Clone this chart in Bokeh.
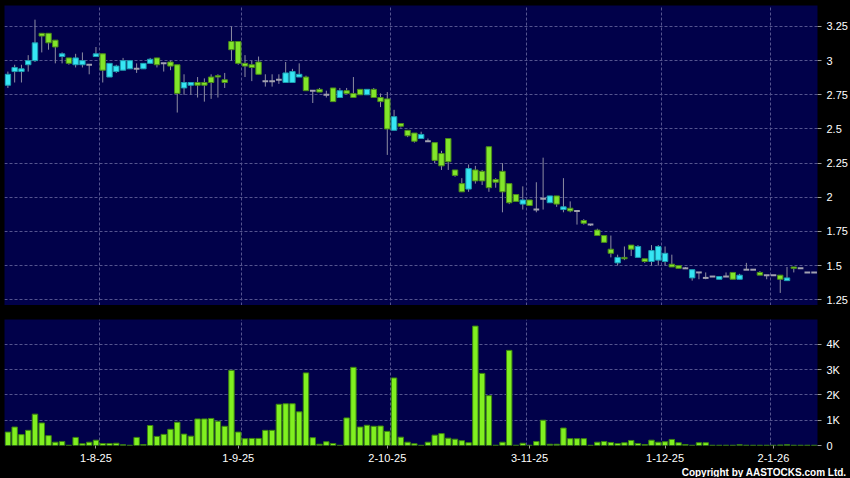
from bokeh.plotting import figure
from bokeh.layouts import column
from bokeh.models import (ColumnDataSource, FixedTicker, Grid, Title, Range1d,
                          GlobalInlineStyleSheet)
from bokeh.embed import file_html
from bokeh.resources import INLINE

# ---------------- data ----------------
opens = [2.82, 2.92, 2.92, 2.97, 3.00, 3.20, 3.20, 3.15, 3.03, 3.02,
         2.97, 2.97, 2.97, 3.03, 3.05, 2.88, 2.92, 2.93, 2.94, 2.94,
         2.94, 2.98, 3.02, 2.98, 2.99, 2.97, 2.80, 2.82, 2.84, 2.84,
         2.88, 2.89, 2.86, 3.14, 3.14, 2.98, 2.97, 2.99, 2.85, 2.85,
         2.86, 2.84, 2.84, 2.88, 2.88, 2.78, 2.79, 2.75, 2.80, 2.73,
         2.78, 2.76, 2.79, 2.75, 2.79, 2.73, 2.72, 2.49, 2.54, 2.49,
         2.47, 2.43, 2.41, 2.40, 2.32, 2.43, 2.20, 2.10, 2.06, 2.20,
         2.19, 2.37, 2.13, 2.19, 2.10, 2.02, 1.95, 1.98, 1.91, 1.99,
         1.96, 2.01, 1.91, 1.92, 1.90, 1.83, 1.80, 1.76, 1.72, 1.62,
         1.52, 1.56, 1.65, 1.56, 1.55, 1.53, 1.54, 1.53, 1.51, 1.50,
         1.48, 1.41, 1.45, 1.41, 1.42, 1.40, 1.42, 1.45, 1.40, 1.47,
         1.47, 1.45, 1.43, 1.43, 1.43, 1.39, 1.49, 1.48, 1.45, 1.45]

highs = [2.92, 2.97, 2.97, 3.04, 3.30, 3.20, 3.20, 3.15, 3.06, 3.02,
         3.05, 3.06, 2.97, 3.10, 3.05, 2.98, 2.97, 3.02, 3.00, 2.98,
         2.98, 3.02, 3.02, 2.98, 3.00, 2.97, 2.90, 2.84, 2.88, 2.87,
         2.90, 2.90, 2.91, 3.25, 3.14, 3.04, 3.00, 3.03, 2.90, 2.90,
         2.90, 2.99, 2.94, 2.98, 2.89, 2.78, 2.80, 2.78, 2.80, 2.80,
         2.80, 2.88, 2.79, 2.79, 2.80, 2.76, 2.77, 2.64, 2.54, 2.49,
         2.47, 2.48, 2.43, 2.40, 2.34, 2.43, 2.20, 2.14, 2.24, 2.23,
         2.20, 2.37, 2.14, 2.25, 2.10, 2.02, 2.08, 1.98, 2.11, 2.29,
         2.01, 2.01, 2.14, 1.97, 1.90, 1.84, 1.80, 1.77, 1.72, 1.72,
         1.58, 1.64, 1.65, 1.65, 1.55, 1.65, 1.65, 1.64, 1.58, 1.50,
         1.49, 1.47, 1.45, 1.45, 1.42, 1.42, 1.45, 1.45, 1.44, 1.52,
         1.47, 1.46, 1.43, 1.43, 1.43, 1.49, 1.49, 1.48, 1.45, 1.45]

lows = [2.80, 2.84, 2.84, 2.92, 2.99, 3.06, 3.08, 2.98, 2.98, 2.97,
        2.95, 2.95, 2.90, 3.03, 2.84, 2.88, 2.91, 2.93, 2.94, 2.91,
        2.94, 2.98, 2.95, 2.92, 2.93, 2.62, 2.75, 2.75, 2.73, 2.70,
        2.72, 2.73, 2.80, 3.00, 2.97, 2.88, 2.85, 2.90, 2.81, 2.81,
        2.83, 2.84, 2.84, 2.88, 2.78, 2.69, 2.77, 2.73, 2.70, 2.73,
        2.76, 2.73, 2.75, 2.75, 2.73, 2.66, 2.31, 2.49, 2.51, 2.44,
        2.40, 2.43, 2.41, 2.25, 2.20, 2.20, 2.15, 2.04, 2.04, 2.10,
        2.09, 2.04, 2.07, 1.89, 1.95, 1.97, 1.91, 1.94, 1.89, 1.91,
        1.96, 1.93, 1.89, 1.89, 1.80, 1.80, 1.79, 1.72, 1.67, 1.56,
        1.50, 1.54, 1.57, 1.56, 1.52, 1.50, 1.50, 1.50, 1.49, 1.48,
        1.48, 1.39, 1.40, 1.40, 1.42, 1.40, 1.42, 1.40, 1.40, 1.47,
        1.47, 1.43, 1.40, 1.43, 1.30, 1.39, 1.45, 1.48, 1.45, 1.45]

closes = [2.90, 2.95, 2.94, 3.00, 3.13, 3.18, 3.13, 3.10, 3.05, 2.98,
          3.02, 3.00, 2.97, 3.05, 2.93, 2.98, 2.96, 3.00, 3.00, 2.94,
          2.98, 3.01, 2.97, 2.98, 2.96, 2.76, 2.84, 2.84, 2.82, 2.82,
          2.84, 2.88, 2.84, 3.08, 2.98, 2.96, 2.95, 2.90, 2.85, 2.85,
          2.86, 2.91, 2.92, 2.90, 2.78, 2.78, 2.77, 2.75, 2.70, 2.78,
          2.76, 2.73, 2.75, 2.79, 2.73, 2.70, 2.50, 2.59, 2.52, 2.45,
          2.41, 2.46, 2.41, 2.27, 2.23, 2.26, 2.16, 2.04, 2.21, 2.12,
          2.12, 2.07, 2.11, 2.04, 1.96, 1.97, 1.98, 1.94, 1.91, 1.99,
          2.01, 1.95, 1.93, 1.90, 1.90, 1.81, 1.80, 1.72, 1.67, 1.59,
          1.56, 1.55, 1.62, 1.64, 1.53, 1.61, 1.64, 1.59, 1.49, 1.48,
          1.48, 1.47, 1.45, 1.41, 1.42, 1.42, 1.42, 1.40, 1.43, 1.47,
          1.47, 1.43, 1.43, 1.43, 1.40, 1.41, 1.48, 1.48, 1.45, 1.45]

volume_k = [0.53, 0.73, 0.43, 0.60, 1.24, 0.89, 0.39, 0.13, 0.16, 0.01,
            0.32, 0.07, 0.13, 0.21, 0.08, 0.08, 0.09, 0.03, 0.01, 0.32,
            0.04, 0.79, 0.36, 0.44, 0.64, 0.92, 0.45, 0.37, 1.05, 1.05,
            1.07, 0.96, 0.76, 2.97, 0.53, 0.27, 0.28, 0.28, 0.60, 0.60,
            1.63, 1.65, 1.65, 1.33, 2.87, 0.31, 0.05, 0.15, 0.08, 0.01,
            1.09, 3.09, 0.73, 0.80, 0.76, 0.77, 0.56, 2.67, 0.33, 0.13,
            0.07, 0.01, 0.13, 0.41, 0.47, 0.29, 0.25, 0.19, 0.11, 4.72,
            2.85, 1.97, 0.01, 0.13, 3.76, 0.01, 0.09, 0.01, 0.16, 1.00,
            0.05, 0.05, 0.69, 0.27, 0.27, 0.27, 0.01, 0.13, 0.16, 0.12,
            0.08, 0.11, 0.20, 0.08, 0.04, 0.21, 0.13, 0.15, 0.24, 0.11,
            0.04, 0.01, 0.11, 0.11, 0.01, 0.01, 0.01, 0.01, 0.03, 0.01,
            0.01, 0.01, 0.01, 0.01, 0.02, 0.03, 0.01, 0.01, 0.01, 0.01]

date_tick_index = [13, 34, 56, 77, 97, 113]
date_tick_labels = ["1-8-25", "1-9-25", "2-10-25", "3-11-25", "1-12-25", "2-1-26"]
date_grid_index = [13.5, 34.5, 56.5, 76.5, 96.5, 112.5]

price_ticks = [1.25, 1.5, 1.75, 2.0, 2.25, 2.5, 2.75, 3.0, 3.25]
price_tick_labels = ["1.25", "1.5", "1.75", "2", "2.25", "2.5", "2.75", "3", "3.25"]
volume_ticks = [0, 1, 2, 3, 4]
volume_tick_labels = ["0", "1K", "2K", "3K", "4K"]

# ---------------- styles ----------------
NAVY = "#01014a"
GRID = "#55558f"
WICK = "#8e8ea2"
DOJI = "#a2a2b0"
UP_FILL, UP_EDGE = "#36e6f4", "#1d9fb0"
DN_FILL, DN_EDGE = "#82e62a", "#4a8c1a"
VOL_FILL, VOL_EDGE = "#80f020", "#3c8410"
FONT = "Liberation Sans"

n = len(opens)
idx = list(range(n))

wick_src = ColumnDataSource(dict(x=idx, low=lows, high=highs))

bx, btop, bbot, bfill, bedge = [], [], [], [], []
dx0, dx1, dp = [], [], []
for i, (o, c) in enumerate(zip(opens, closes)):
    if c == o:
        dx0.append(i - 0.42)
        dx1.append(i + 0.42)
        dp.append(c)
    else:
        bx.append(i)
        btop.append(max(o, c))
        bbot.append(min(o, c))
        bfill.append(UP_FILL if c > o else DN_FILL)
        bedge.append(UP_EDGE if c > o else DN_EDGE)
body_src = ColumnDataSource(dict(x=bx, top=btop, bottom=bbot, fill=bfill, edge=bedge))
doji_src = ColumnDataSource(dict(x0=dx0, x1=dx1, p=dp))
vol_src = ColumnDataSource(dict(x=idx, v=volume_k))

xr = Range1d(-0.5, n - 0.5)


def style_y_axis(p):
    ax = p.yaxis[0]
    ax.axis_line_color = None
    ax.major_tick_line_color = "#9a9a9a"
    ax.major_tick_in = 0
    ax.major_tick_out = 4
    ax.minor_tick_line_color = None
    ax.major_label_text_color = "white"
    ax.major_label_text_font = FONT
    ax.major_label_text_font_size = "11px"
    ax.major_label_standoff = 5


# ---------------- price panel ----------------
p1 = figure(width=850, height=305, x_range=xr, y_range=Range1d(1.208, 3.4035),
            x_axis_location=None, y_axis_location="right", title=None,
            output_backend="svg", toolbar_location=None,
            background_fill_color=NAVY, border_fill_color="black",
            outline_line_color=None, min_border_left=4, min_border_right=33,
            min_border_top=5, min_border_bottom=0)
p1.xgrid.visible = False
p1.add_layout(Grid(dimension=0, ticker=FixedTicker(ticks=date_grid_index),
                   grid_line_color=GRID, grid_line_dash="3 2"))
p1.yaxis.ticker = FixedTicker(ticks=price_ticks)
p1.yaxis.major_label_overrides = dict(zip(price_ticks, price_tick_labels))
p1.ygrid.grid_line_color = GRID
p1.ygrid.grid_line_dash = "3 2"
style_y_axis(p1)

p1.segment(x0="x", y0="low", x1="x", y1="high", source=wick_src,
           line_color=WICK, line_width=1)
p1.vbar(x="x", width=0.8, top="top", bottom="bottom", source=body_src,
        fill_color="fill", line_color="edge", line_width=1)
p1.segment(x0="x0", y0="p", x1="x1", y1="p", source=doji_src,
           line_color=DOJI, line_width=2)

# ---------------- volume panel ----------------
p2 = figure(width=850, height=172, x_range=xr, y_range=Range1d(0, 4.98),
            y_axis_location="right", title=None,
            output_backend="svg", toolbar_location=None,
            background_fill_color=NAVY, border_fill_color="black",
            outline_line_color=None, min_border_left=4, min_border_right=33,
            min_border_top=14, min_border_bottom=0)
p2.xgrid.visible = False
p2.add_layout(Grid(dimension=0, ticker=FixedTicker(ticks=date_grid_index),
                   grid_line_color=GRID, grid_line_dash="3 2"))
p2.yaxis.ticker = FixedTicker(ticks=volume_ticks)
p2.yaxis.major_label_overrides = dict(zip(volume_ticks, volume_tick_labels))
p2.ygrid.grid_line_color = GRID
p2.ygrid.grid_line_dash = "3 2"
style_y_axis(p2)

xa = p2.xaxis[0]
xa.ticker = FixedTicker(ticks=date_tick_index)
xa.major_label_overrides = dict(zip(date_tick_index, date_tick_labels))
xa.axis_line_color = None
xa.major_tick_line_color = "#9a9a9a"
xa.major_tick_in = 0
xa.major_tick_out = 3
xa.minor_tick_line_color = None
xa.major_label_text_color = "white"
xa.major_label_text_font = FONT
xa.major_label_text_font_size = "11px"
xa.major_label_standoff = 5

p2.vbar(x="x", width=0.8, top="v", bottom=0, source=vol_src,
        fill_color=VOL_FILL, line_color=VOL_EDGE, line_width=1)

p2.add_layout(Title(text="Copyright by AASTOCKS.com Ltd.", align="right",
                    text_color="white", text_font=FONT, text_font_size="10px",
                    text_font_style="bold", standoff=0, offset=-29), "below")

layout = column(p1, p2, spacing=0,
                stylesheets=[GlobalInlineStyleSheet(css="body { background-color: #000000; }")])

open("out.html", "w").write(file_html(layout, INLINE))
